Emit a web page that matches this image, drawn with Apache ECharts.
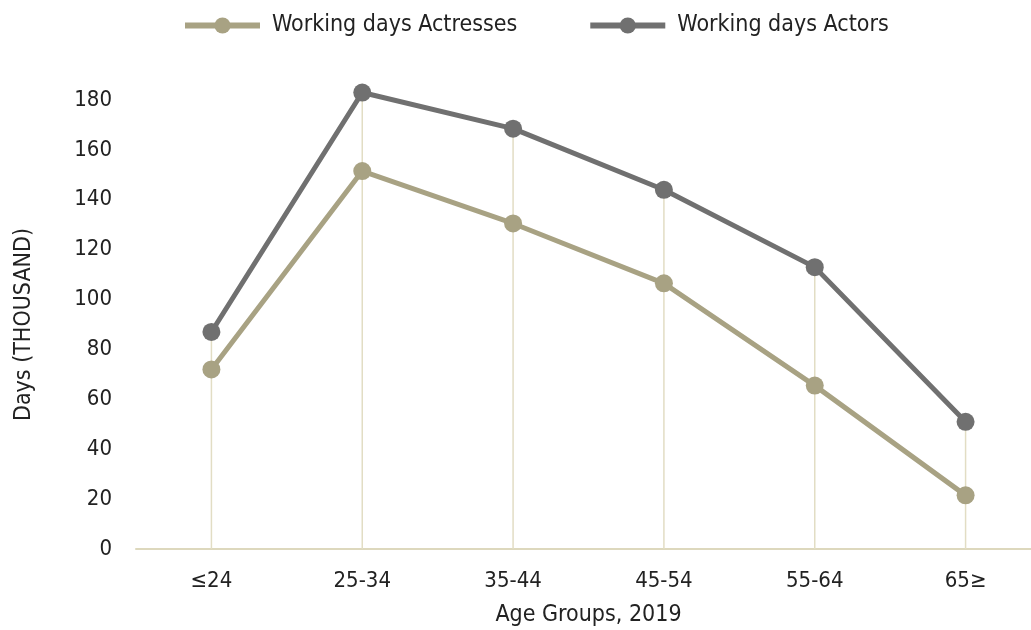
<!DOCTYPE html>
<html><head><meta charset="utf-8">
<script src="https://cdn.jsdelivr.net/npm/echarts@6/dist/echarts.min.js"></script>
<style>html,body{margin:0;padding:0;background:#fff}#c{width:1031px;height:630px}</style>
</head><body><div id="c"></div>
<script>
const categories = ['≤24', '25-34', '35-44', '45-54', '55-64', '65≥'];
const actresses = [72, 151.5, 130.5, 106.5, 65.5, 21.5];
const actors = [87, 183, 168.5, 144, 113, 51];
const yTicks = [0, 20, 40, 60, 80, 100, 120, 140, 160, 180];

const FONT = '"Liberation Sans Narrow", "DejaVu Sans Condensed", sans-serif';
const chart = echarts.init(document.getElementById('c'));
chart.setOption({
  animation: false,
  textStyle: { fontFamily: FONT },
  legend: {
    top: 9, left: 177,
    itemWidth: 75, itemHeight: 20, itemGap: 70,
    lineStyle: { width: 6 },
    textStyle: { fontFamily: FONT, fontSize: 23, color: '#222', padding: [0, 0, 0, 7] },
    data: ['Working days Actresses', 'Working days Actors']
  },
  grid: { left: 136, width: 905, top: 100, bottom: 81, outerBoundsMode: 'none', containLabel: false },
  xAxis: {
    type: 'category', data: categories, boundaryGap: true,
    name: 'Age Groups, 2019', nameLocation: 'middle', nameGap: 55,
    nameTextStyle: { fontFamily: FONT, fontSize: 23, color: '#222' },
    axisLine: { lineStyle: { color: '#ddd8bd', width: 2 } },
    axisTick: { show: false },
    axisLabel: { fontFamily: FONT, fontSize: 22, color: '#222', margin: 21 },
    splitLine: { show: false }
  },
  yAxis: {
    type: 'value', min: 0, max: yTicks[yTicks.length - 1], interval: 20,
    name: 'Days (THOUSAND)', nameLocation: 'middle', nameGap: 100, nameRotate: 90,
    nameTextStyle: { fontFamily: FONT, fontSize: 23, color: '#222' },
    axisLine: { show: false }, axisTick: { show: false },
    axisLabel: { fontFamily: FONT, fontSize: 22, color: '#222', margin: 24 },
    splitLine: { show: false }
  },
  series: [
    {
      type: 'bar', name: 'drop', data: actors, barWidth: 1.5, silent: true,
      itemStyle: { color: '#e2ddc4' }, z: 1, legendHoverLink: false
    },
    {
      type: 'line', name: 'Working days Actresses', data: actresses, clip: false,
      symbol: 'circle', symbolSize: 18, z: 3,
      lineStyle: { color: '#a8a283', width: 5 },
      itemStyle: { color: '#a8a283' }
    },
    {
      type: 'line', name: 'Working days Actors', data: actors, clip: false,
      symbol: 'circle', symbolSize: 18, z: 4,
      lineStyle: { color: '#707070', width: 5 },
      itemStyle: { color: '#707070' }
    }
  ]
});
</script></body></html>
